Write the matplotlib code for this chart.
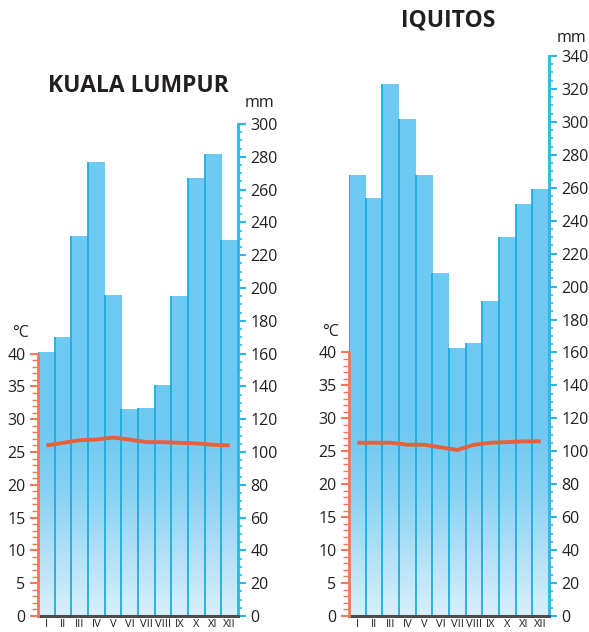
import numpy as np
from matplotlib import pyplot as plt
from matplotlib.colors import LinearSegmentedColormap
from matplotlib.ticker import MultipleLocator

plt.rcParams['font.family'] = ['Open Sans', 'DejaVu Sans']

months = ['I', 'II', 'III', 'IV', 'V', 'VI', 'VII', 'VIII', 'IX', 'X', 'XI', 'XII']

# Kuala Lumpur
kl_precip = [161, 170, 232, 277, 196, 126, 127, 141, 195, 267, 282, 229]
kl_temp = [26.0, 26.4, 26.8, 26.9, 27.2, 26.9, 26.5, 26.5, 26.4, 26.3, 26.1, 26.0]

# Iquitos
iq_precip = [268, 254, 323, 302, 268, 208, 163, 166, 191, 230, 250, 259]
iq_temp = [26.3, 26.3, 26.3, 26.0, 26.0, 25.6, 25.2, 26.0, 26.3, 26.4, 26.5, 26.5]

W, H = 589, 632
fig = plt.figure(figsize=(W / 100, H / 100), dpi=100)

ORANGE = '#ee7a55'
LINE = '#e8603a'
CYAN = '#2bb6e6'
EDGE = '#1aaee2'
TXT = '#231f20'
grad = LinearSegmentedColormap.from_list(
    'g', ['#d8f0fb', '#b2e0f7', '#88d2f4', '#70c9f1', '#6ecaf2'], N=256)


def px_rect(x0, x1, y0, y1):
    return [x0 / W, 1 - y0 / H, (x1 - x0) / W, (y0 - y1) / H]


def climate(rect, precip, temp, ptop, title, tpos, cpos, mpos):
    ax_p = fig.add_axes(rect)
    ax_t = fig.add_axes(rect, sharex=ax_p)
    ax_t.patch.set_visible(False)

    x = np.arange(len(months))
    bars = ax_p.bar(x, precip, width=1.0, color='none', linewidth=0,
                    zorder=3)
    g = np.linspace(0, 1, 300).reshape(-1, 1)
    for b in bars:
        im = ax_p.imshow(g, extent=[-0.5, 11.5, 0, 150], origin='lower',
                         aspect='auto', cmap=grad, zorder=2)
        im.set_clip_path(b)
        top = ax_p.imshow(np.ones((2, 1)), extent=[-0.5, 11.5, 149, ptop],
                          origin='lower', aspect='auto', cmap=grad,
                          vmin=0, vmax=1, zorder=2)
        top.set_clip_path(b)
    # divider lines on the left of each bar, up to its own top
    ax_p.vlines(x - 0.5, 0, precip, color=EDGE, lw=1.3, zorder=3)
    ax_p.set_xlim(-0.5, 11.5)
    ax_p.set_ylim(0, ptop)

    ax_t.plot(x, temp, color=LINE, lw=2.8, zorder=5, solid_capstyle='butt')
    ax_t.set_ylim(0, ptop / 4)

    for s in ['top', 'left']:
        ax_p.spines[s].set_visible(False)
    for s in ['top', 'right', 'bottom']:
        ax_t.spines[s].set_visible(False)
    ax_p.spines['right'].set_color(CYAN)
    ax_p.spines['right'].set_linewidth(2)
    ax_p.spines['right'].set_bounds(0, ptop)
    ax_p.spines['bottom'].set_color('#4d4d4f')
    ax_p.spines['bottom'].set_linewidth(2.2)
    ax_p.spines['bottom'].set_zorder(6)
    ax_t.spines['left'].set_color(ORANGE)
    ax_t.spines['left'].set_linewidth(2)
    ax_t.spines['left'].set_bounds(0, 40)

    ax_p.yaxis.tick_right()
    ax_p.yaxis.set_major_locator(MultipleLocator(20))
    ax_p.yaxis.set_minor_locator(MultipleLocator(5))
    ax_p.tick_params(axis='y', which='major', direction='out', length=6,
                     width=1.5, color=CYAN, labelsize=11.5, labelcolor=TXT,
                     pad=3)
    ax_p.tick_params(axis='y', which='minor', direction='out', length=3,
                     width=1.2, color=CYAN)

    ax_t.set_yticks(np.arange(0, 41, 5))
    ax_t.set_yticks(np.arange(0, 41, 1), minor=True)
    ax_t.tick_params(axis='y', which='major', direction='out', length=6,
                     width=1.5, color=ORANGE, labelsize=11.5, labelcolor=TXT,
                     pad=3)
    ax_t.tick_params(axis='y', which='minor', direction='out', length=4,
                     width=1.0, color=ORANGE)
    ax_t.tick_params(axis='x', bottom=False, labelbottom=False)

    ax_p.set_xticks(x)
    ax_p.set_xticklabels(months)
    ax_p.tick_params(axis='x', length=0, pad=2.5, labelsize=8,
                     labelcolor=TXT)

    fig.text(tpos[0] / W, 1 - tpos[1] / H, title, ha='center', va='center',
             fontsize=16.5, fontweight='bold', color=TXT)
    fig.text(cpos[0] / W, 1 - cpos[1] / H, '°C', ha='center', va='center',
             fontsize=11.5, color=TXT)
    fig.text(mpos[0] / W, 1 - mpos[1] / H, 'mm', ha='center', va='center',
             fontsize=11.5, color=TXT)


climate(px_rect(38, 238, 616, 124), kl_precip, kl_temp, 300,
        'KUALA LUMPUR', (138, 86), (21, 333), (260, 103))
climate(px_rect(349, 549, 616, 56), iq_precip, iq_temp, 340,
        'IQUITOS', (448, 21), (331, 332), (571, 38))

fig.savefig('out.png', dpi=100)
